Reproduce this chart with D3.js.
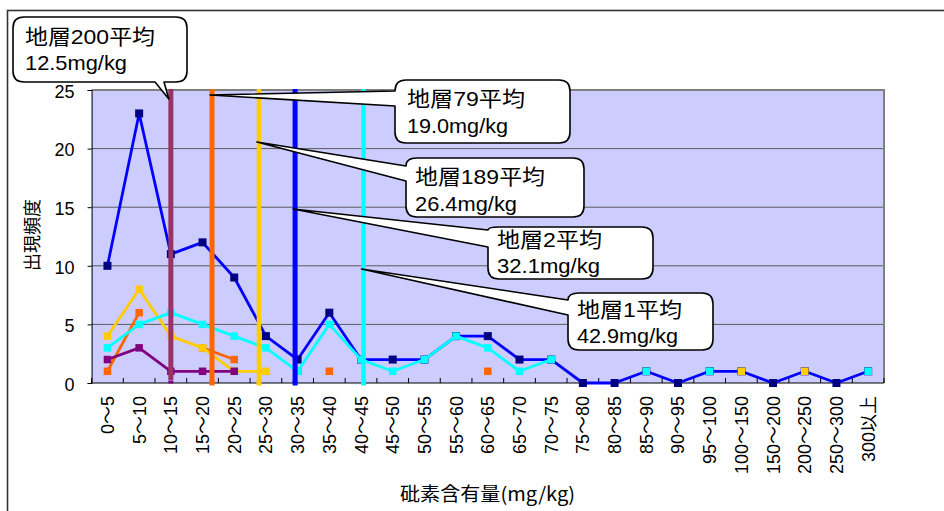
<!DOCTYPE html>
<html><head><meta charset="utf-8">
<script src="https://cdn.jsdelivr.net/npm/d3@7"></script>
<style>
html,body{margin:0;padding:0;background:#fff;}
svg{display:block;font-family:"Liberation Sans",Arial,"Noto Sans CJK JP",sans-serif;}
</style></head>
<body>
<svg id="c" width="944" height="511"></svg>
<script>
// ---------- data ----------
const categories = ["0～5","5～10","10～15","15～20","20～25","25～30","30～35","35～40","40～45","45～50",
  "50～55","55～60","60～65","65～70","70～75","75～80","80～85","85～90","90～95","95～100",
  "100～150","150～200","200～250","250～300","300以上"];
const yTicks = [0,5,10,15,20,25];
const n = null;
const layer2   = [10,23,11,12,9,4,2,6,2,2,2,4,4,2,2,0,0,1,0,1,1,0,1,0,1];
const layer79  = [1,6,n,3,2,n,n,1,n,n,n,n,1,n,n,n,n,n,n,n,n,n,n,n,n];
const layer189 = [4,8,4,3,1,1,n,n,n,n,n,n,n,n,n,n,n,n,n,n,1,n,1,n,n];
const layer200 = [2,3,1,1,1,n,1,n,n,n,n,n,n,n,n,n,n,n,n,n,n,n,n,n,n];
const layer1   = [3,5,6,5,4,3,1,5,2,1,2,4,3,1,2,n,n,1,n,1,n,n,n,n,1];
const avgNames  = ["200","79","189","2","1"];
const avgValues = [12.5,19.0,26.4,32.1,42.9];

// ---------- layout ----------
const svg = d3.select("#c");
const L = 91.6, R = 884, T = 90, B = 383;
const x = d3.scaleBand().domain(categories).range([L,R]).padding(0);
const xv = d3.scaleLinear().domain([0,125]).range([L,R]);
const y = d3.scaleLinear().domain([0,25]).range([B,T]);

svg.append("rect").attr("x",0).attr("y",0).attr("width",944).attr("height",511).attr("fill","#fff");
svg.append("rect").attr("x",7.5).attr("y",10.5).attr("width",960).attr("height",530)
  .attr("fill","none").attr("stroke","#333").attr("stroke-width",1.6);

// plot area
svg.append("rect").attr("x",L).attr("y",T).attr("width",R-L).attr("height",B-T).attr("fill","#CCCCFF");
svg.append("g").selectAll("line").data(yTicks.filter(d=>d>0&&d<25)).join("line")
  .attr("x1",L).attr("x2",R).attr("y1",d=>y(d)).attr("y2",d=>y(d))
  .attr("stroke","#5a5a5a").attr("stroke-width",1);
svg.append("path").attr("d",`M${L},${T}H${R}V${B}`).attr("fill","none")
  .attr("stroke","#808080").attr("stroke-width",2);

// y axis
const ya = svg.append("g").attr("transform",`translate(${L},0)`)
  .call(d3.axisLeft(y).tickValues(yTicks).tickSize(4).tickPadding(13));
ya.select(".domain").attr("stroke","#000");
ya.selectAll(".tick line").attr("stroke","#000");
ya.selectAll("text").attr("font-size",18).attr("fill","#000")
  .attr("font-family",'"Liberation Sans",Arial,sans-serif').attr("dy","0.4em");

// x axis
svg.append("line").attr("x1",L).attr("x2",R).attr("y1",B).attr("y2",B).attr("stroke","#000");
svg.append("g").selectAll("line").data(d3.range(categories.length+1)).join("line")
  .attr("x1",i=>L+i*x.bandwidth()).attr("x2",i=>L+i*x.bandwidth())
  .attr("y1",B).attr("y2",B-5).attr("stroke","#000");
svg.append("g").selectAll("text").data(categories).join("text")
  .attr("transform",d=>`translate(${x(d)+x.bandwidth()/2},396) rotate(-90)`)
  .attr("text-anchor","end").attr("dy","0.36em")
  .attr("font-size",18).attr("fill","#000").text(d=>d);

// axis titles
svg.append("text").attr("transform","translate(33,235) rotate(-90)")
  .attr("text-anchor","middle").attr("dy","0.36em")
  .attr("font-family",'"Noto Sans CJK JP",sans-serif').attr("font-size",18).text("出現頻度");
svg.append("text").attr("x",400).attr("y",501)
  .attr("font-family",'"Noto Sans CJK JP",sans-serif').attr("font-size",19)
  .attr("textLength",175).attr("lengthAdjust","spacingAndGlyphs").text("砒素含有量(mg/kg)");

// series
const series = [
  {data:layer2,   line:"#0000FF", mark:"#000080", ms:8},
  {data:layer79,  line:"#FF6600", mark:"#FF6600", ms:7.5},
  {data:layer189, line:"#FFCC00", mark:"#FFCC00", ms:7.5},
  {data:layer200, line:"#800080", mark:"#800080", ms:7.5},
  {data:layer1,   line:"#00FFFF", mark:"#00FFFF", ms:7.5}
];
const cx = i => x(categories[i]) + x.bandwidth()/2;
const lineGen = d3.line().defined(d=>d.v!=null).x(d=>cx(d.i)).y(d=>y(d.v));
series.forEach(s=>{
  const pts = s.data.map((v,i)=>({v,i}));
  svg.append("path").attr("d",lineGen(pts)).attr("fill","none")
    .attr("stroke",s.line).attr("stroke-width",2.8).attr("stroke-linejoin","round");
  svg.append("g").selectAll("rect").data(pts.filter(d=>d.v!=null)).join("rect")
    .attr("x",d=>cx(d.i)-s.ms/2).attr("y",d=>y(d.v)-s.ms/2)
    .attr("width",s.ms).attr("height",s.ms).attr("fill",s.mark);
});

// average vertical lines
const avgColors = ["#993366","#FF6600","#FFCC00","#0000FF","#00FFFF"];
const avgMark   = ["#800080","#FF6600","#FFCC00","#0000FF","#00FFFF"];
const avgWidths = [5,5,4.5,5,4.5];
avgValues.forEach((v,k)=>{
  svg.append("line").attr("x1",xv(v)).attr("x2",xv(v)).attr("y1",y(25)-1).attr("y2",k===0?y(0)-3:y(0))
    .attr("stroke",avgColors[k]).attr("stroke-width",avgWidths[k]);
  svg.append("rect").attr("x",xv(v)-2.5).attr("y",y(0)-2.5).attr("width",5).attr("height",k===0?3:5)
    .attr("fill",avgMark[k]);
});

// callouts
const callouts = [
  {k:0, box:[13,17,174,65], side:"bottom", base:[155,164], tipY:99,  tx:25,  by:[44,70],   w:[130,102]},
  {k:1, box:[395,80,175,63], side:"left", base:[91,106], tipY:95,  tx:407, by:[106,133], w:[118,101]},
  {k:2, box:[406,158,178,59], side:"left", base:[166,181], tipY:142, tx:415, by:[184,211], w:[130,102]},
  {k:3, box:[488,227,165,52], side:"left", base:[230,247], tipY:209, tx:497, by:[247,273], w:[105,103]},
  {k:4, box:[568,293,145,57], side:"left", base:[300,315], tipY:269, tx:577, by:[317,343], w:[105,101]}
];
function calloutPath(c, tipX){
  const [bx,by,bw,bh] = c.box, r = 11;
  let p = `M${bx+r},${by}H${bx+bw-r}Q${bx+bw},${by} ${bx+bw},${by+r}V${by+bh-r}Q${bx+bw},${by+bh} ${bx+bw-r},${by+bh}`;
  if (c.side==="bottom") p += `H${c.base[1]}L${tipX},${c.tipY}L${c.base[0]},${by+bh}`;
  p += `H${bx+r}Q${bx},${by+bh} ${bx},${by+bh-r}`;
  if (c.side==="left") {
    p += `V${c.base[1]}L${tipX},${c.tipY}L${bx},${c.base[0]}`;
    if (c.base[0] > by+r) p += `V${by+r}`;
  } else p += `V${by+r}`;
  p += `Q${bx},${by} ${bx+r},${by}Z`;
  return p;
}
callouts.forEach(c=>{
  const tipX = xv(avgValues[c.k]) - 2;
  svg.append("path").attr("d",calloutPath(c,tipX)).attr("fill","#fff")
    .attr("stroke","#000").attr("stroke-width",1.6).attr("stroke-linejoin","round");
  const lines = [`地層${avgNames[c.k]}平均`, `${avgValues[c.k].toFixed(1)}mg/kg`];
  lines.forEach((t,j)=>{
    svg.append("text").attr("x",c.tx).attr("y",c.by[j]).attr("font-size",21).attr("fill","#000")
      .attr("textLength",c.w[j]).attr("lengthAdjust","spacingAndGlyphs").text(t);
  });
});
</script>
</body></html>
